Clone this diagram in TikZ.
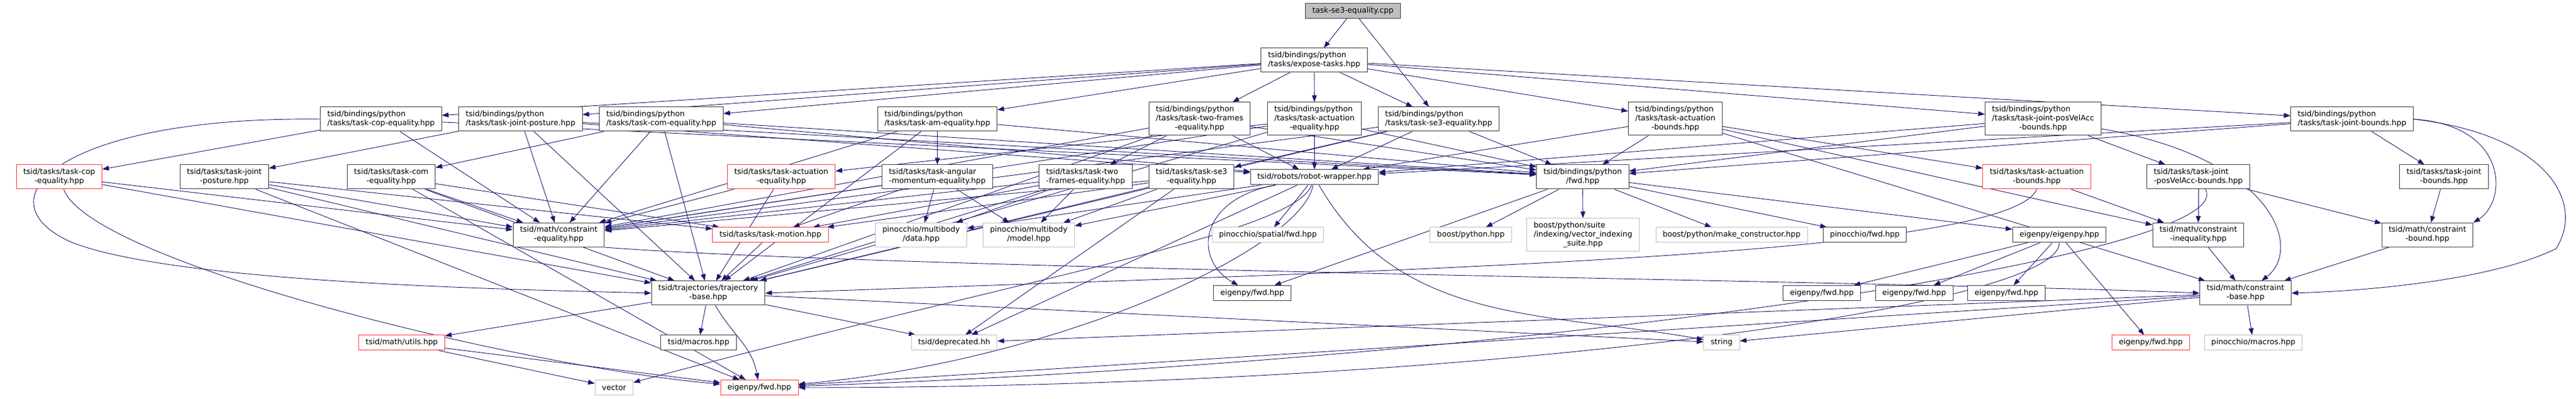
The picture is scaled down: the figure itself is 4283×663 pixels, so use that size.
\documentclass[tikz,border=0pt]{standalone}
\usepackage{fontspec}
\setmainfont{DejaVu Sans}
\usetikzlibrary{arrows.meta}
\definecolor{edgeblue}{HTML}{191970}
\definecolor{boxgrey}{HTML}{404040}
\definecolor{extgrey}{HTML}{BFBFBF}
\definecolor{truncred}{HTML}{FF3B3B}
\newcommand{\fname}[2]{\begin{tabular}{@{}l@{}}#1\\\multicolumn{1}{@{}c@{}}{#2}\end{tabular}}
\pgfdeclarelayer{back}
\pgfsetlayers{back,main}
\tikzset{
 file/.style={draw=boxgrey, fill=white, line width=1pt, inner xsep=11.5pt, inner ysep=0pt,
   minimum height=25pt, font=\fontsize{12.7}{15}\selectfont},
 ext/.style={file, draw=extgrey},
 trunc/.style={file, draw=truncred},
 root/.style={file, fill=extgrey},
 tall/.style={minimum height=40pt},
 taller/.style={minimum height=55pt},
 dep/.style={draw=edgeblue, line width=0.9pt, -{Triangle[length=11pt,width=8pt]}}
}

\begin{document}
\begin{tikzpicture}[x=1pt,y=1pt]
\useasboundingbox (0,0) rectangle (4283,663);

\node[root] (cpp) at (2249.5,645) {task-se3-equality.cpp};
\node[file,tall] (expose) at (2185,563) {\fname{tsid/bindings/python}{/tasks/expose-tasks.hpp}};

\node[file,tall] (bcop) at (633.5,465) {\fname{tsid/bindings/python}{/tasks/task-cop-equality.hpp}};
\node[file,tall] (bposture) at (865.5,465) {\fname{tsid/bindings/python}{/tasks/task-joint-posture.hpp}};
\node[file,tall] (bcom) at (1099.5,465) {\fname{tsid/bindings/python}{/tasks/task-com-equality.hpp}};
\node[file,tall] (bam) at (1558.5,465) {\fname{tsid/bindings/python}{/tasks/task-am-equality.hpp}};
\node[file,taller] (btwo) at (1994.5,465.5) {\fname{tsid/bindings/python\\/tasks/task-two-frames}{-equality.hpp}};
\node[file,taller] (bact) at (2185.5,465.5) {\fname{tsid/bindings/python\\/tasks/task-actuation}{-equality.hpp}};
\node[file,tall] (bse3) at (2392,465) {\fname{tsid/bindings/python}{/tasks/task-se3-equality.hpp}};
\node[file,taller] (bactb) at (2785.5,465.5) {\fname{tsid/bindings/python\\/tasks/task-actuation}{-bounds.hpp}};
\node[file,taller] (bpva) at (3397,465.5) {\fname{tsid/bindings/python\\/tasks/task-joint-posVelAcc}{-bounds.hpp}};
\node[file,tall] (bjb) at (3910.5,465) {\fname{tsid/bindings/python}{/tasks/task-joint-bounds.hpp}};

\node[trunc,tall] (tcop) at (98.5,369) {\fname{tsid/tasks/task-cop}{-equality.hpp}};
\node[file,tall] (tposture) at (373,369) {\fname{tsid/tasks/task-joint}{-posture.hpp}};
\node[file,tall] (tcom) at (650.5,369) {\fname{tsid/tasks/task-com}{-equality.hpp}};
\node[trunc,tall] (tact) at (1299,369) {\fname{tsid/tasks/task-actuation}{-equality.hpp}};
\node[file,tall] (tam) at (1558.5,369) {\fname{tsid/tasks/task-angular}{-momentum-equality.hpp}};
\node[file,tall] (ttwo) at (1805,369) {\fname{tsid/tasks/task-two}{-frames-equality.hpp}};
\node[file,tall] (tse3) at (1981,369) {\fname{tsid/tasks/task-se3}{-equality.hpp}};
\node[file] (robot) at (2185.5,368.5) {tsid/robots/robot-wrapper.hpp};
\node[file,tall] (bfwd) at (2631.5,369) {\fname{tsid/bindings/python}{/fwd.hpp}};
\node[trunc,tall] (tactb) at (3386.5,369) {\fname{tsid/tasks/task-actuation}{-bounds.hpp}};
\node[file,tall] (tpva) at (3655,369) {\fname{tsid/tasks/task-joint}{-posVelAcc-bounds.hpp}};
\node[file,tall] (tjb) at (4063.5,369) {\fname{tsid/tasks/task-joint}{-bounds.hpp}};

\node[file,tall] (ceq) at (929,272.5) {\fname{tsid/math/constraint}{-equality.hpp}};
\node[trunc] (tmotion) at (1281,272.5) {tsid/tasks/task-motion.hpp};
\node[ext,tall] (pdata) at (1531.5,272.5) {\fname{pinocchio/multibody}{/data.hpp}};
\node[ext,tall] (pmodel) at (1710.5,272.5) {\fname{pinocchio/multibody}{/model.hpp}};
\node[ext] (pspatial) at (2108,272.5) {pinocchio/spatial/fwd.hpp};
\node[ext] (bpython) at (2445.5,272.5) {boost/python.hpp};
\node[ext,taller] (bvis) at (2632,272.5) {\fname{boost/python/suite\\/indexing/vector\_indexing}{\_suite.hpp}};
\node[ext] (bmake) at (2879,272.5) {boost/python/make\_constructor.hpp};
\node[file] (pfwd) at (3100.5,272.5) {pinocchio/fwd.hpp};
\node[file] (eeigenpy) at (3424,272.5) {eigenpy/eigenpy.hpp};
\node[file,tall] (cineq) at (3655,272.5) {\fname{tsid/math/constraint}{-inequality.hpp}};
\node[file,tall] (cbound) at (4036,272.5) {\fname{tsid/math/constraint}{-bound.hpp}};

\node[file,tall] (traj) at (1177.5,176) {\fname{tsid/trajectories/trajectory}{-base.hpp}};
\node[file] (efwdA) at (2082,176) {eigenpy/fwd.hpp};
\node[file] (efwdB) at (3029,176) {eigenpy/fwd.hpp};
\node[file] (efwdC) at (3182.5,176) {eigenpy/fwd.hpp};
\node[file] (efwdD) at (3336,176) {eigenpy/fwd.hpp};
\node[file,tall] (cbase) at (3733.5,176) {\fname{tsid/math/constraint}{-base.hpp}};

\node[trunc] (utils) at (668,93.5) {tsid/math/utils.hpp};
\node[file] (macros) at (1161.5,93.5) {tsid/macros.hpp};
\node[ext] (deprecated) at (1586.5,93.5) {tsid/deprecated.hh};
\node[ext] (string) at (2862.5,93.5) {string};
\node[trunc] (efwdRb) at (3576,93.5) {eigenpy/fwd.hpp};
\node[ext] (pmacros) at (3746.5,93.5) {pinocchio/macros.hpp};
\node[ext] (vector) at (1021,19) {vector};
\node[trunc] (efwdRa) at (1262.5,19) {eigenpy/fwd.hpp};

\begin{pgfonlayer}{back}
\draw[dep] (cpp) -- (expose);
\draw[dep] (cpp) -- (bse3);
\foreach \t in {bcop,bposture,bcom,bam,btwo,bact,bse3,bactb,bpva,bjb}
  \draw[dep] (expose) -- (\t);
\foreach \s/\t in {bcop/tcop,bposture/tposture,bcom/tcom,bam/tam,btwo/ttwo,bact/tact,bse3/tse3,bactb/tactb,bpva/tpva,bjb/tjb}
  \draw[dep] (\s) -- (\t);
\foreach \s in {bcop,bposture,bcom,bam,btwo,bact,bse3,bactb,bpva,bjb}
  \draw[dep] (\s) -- (bfwd);
\foreach \s in {bposture,bcom,btwo,bact,bse3,bactb,bpva,bjb}
  \draw[dep] (\s) -- (robot);
\foreach \s in {bcop,bposture,bcom,bam,btwo,bact,bse3,tcop,tposture,tcom,tact,tam,ttwo,tse3}
  \draw[dep] (\s) -- (ceq);
\foreach \s in {bposture,bcom,bam,btwo,bact,bse3,tcop,tposture,tcom,tact,tmotion,ttwo,tse3}
  \draw[dep] (\s) -- (traj);
\foreach \s in {tposture,tcom,tam,ttwo,tse3}
  \draw[dep] (\s) -- (tmotion);
\foreach \s/\t in {tam/pdata,tam/pmodel,ttwo/pdata,ttwo/pmodel,tse3/pmodel,robot/pmodel,robot/pdata,robot/pspatial,tse3/deprecated,robot/deprecated}
  \draw[dep] (\s) -- (\t);
\foreach \t in {bpython,bvis,bmake,pfwd,eeigenpy,efwdA}
  \draw[dep] (bfwd) -- (\t);
\foreach \t in {efwdB,efwdC,efwdD,efwdRb}
  \draw[dep] (eeigenpy) -- (\t);
\foreach \t in {utils,macros,deprecated,string}
  \draw[dep] (traj) -- (\t);
\foreach \s in {cineq,cbound}
  \draw[dep] (\s) -- (cbase);
\foreach \t in {pmacros,string,deprecated,efwdRa}
  \draw[dep] (cbase) -- (\t);
\foreach \s/\t in {utils/vector,utils/efwdRa,tactb/cineq,tpva/cineq,bactb/cineq,tpva/cbound,tjb/cbound,bactb/cbase,tposture/efwdRa,tcom/efwdRa}
  \draw[dep] (\s) -- (\t);
\draw[dep] (traj) to[out=-60,in=100] (efwdRa);
\draw[dep] (tcop) .. controls +(-70:150) and +(175:400) .. (efwdRa);
\draw[dep] (bcop.west) .. controls (100,470) and (-40,330) .. (120,260) .. controls (300,190) and (900,181) .. (traj.west);
\draw[dep] (ceq.south east) .. controls (1500,215) and (3200,195) .. (cbase.west);
\draw[dep] (robot) .. controls (1990,330) and (1985,230) .. (efwdA);
\draw[dep] (robot) to[out=-60,in=170] (string);
\draw[dep] (robot) .. controls +(-110:100) and +(15:700) .. (vector);
\draw[dep] (robot) .. controls +(-100:120) and +(5:500) .. (efwdRa);
\draw[dep] (eeigenpy) .. controls +(-90:120) and +(0:1200) .. (efwdRa);
\draw[dep] (tpva) .. controls +(-60:150) and +(2:1300) .. (efwdRa);
\draw[dep] (tactb.south) .. controls (3340,240) and (2400,215) .. (traj.east);
\draw[dep] (bpva) .. controls (3780,400) and (3830,250) .. (cbase);
\draw[dep] (bjb.east) .. controls (4170,455) and (4170,330) .. (cbound.north east);
\draw[dep] (bjb.east) .. controls (4230,440) and (4300,330) .. (4250,250) .. controls (4150,200) and (3950,180) .. (cbase.east);
\end{pgfonlayer}
\end{tikzpicture}
\end{document}
